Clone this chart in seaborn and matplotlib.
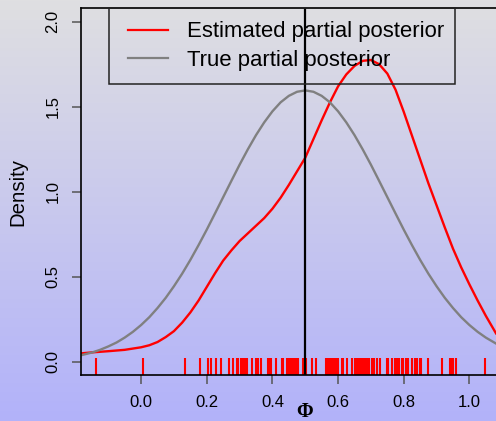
import numpy as np
import pandas as pd
import matplotlib
matplotlib.use("Agg")
import matplotlib.pyplot as plt
from matplotlib.patches import Rectangle
from matplotlib.lines import Line2D
import seaborn as sns

plt.rcParams['font.family'] = ['Liberation Sans', 'DejaVu Sans']

# estimated partial posterior (red)
est_x = [-0.184, -0.15, -0.1, -0.05, 0.0, 0.025, 0.05, 0.075, 0.1, 0.125, 0.15, 0.175,
         0.2, 0.225, 0.25, 0.275, 0.3, 0.325, 0.35, 0.375, 0.4, 0.425, 0.45, 0.475,
         0.5, 0.525, 0.55, 0.575, 0.6, 0.625, 0.65, 0.675, 0.7, 0.725, 0.75, 0.775,
         0.8, 0.825, 0.85, 0.875, 0.9, 0.925, 0.95, 0.975, 1.0, 1.025, 1.05, 1.081]
est_y = [0.049, 0.055, 0.062, 0.070, 0.085, 0.097, 0.116, 0.145, 0.18, 0.23, 0.29, 0.36,
         0.44, 0.52, 0.595, 0.655, 0.71, 0.755, 0.80, 0.845, 0.90, 0.965, 1.04, 1.12,
         1.20, 1.31, 1.42, 1.525, 1.62, 1.69, 1.74, 1.77, 1.775, 1.75, 1.695, 1.60,
         1.47, 1.33, 1.19, 1.05, 0.92, 0.79, 0.665, 0.555, 0.455, 0.36, 0.27, 0.167]

# true partial posterior (grey)
true_x = [-0.184, -0.175, -0.15, -0.125, -0.1, -0.075, -0.05, -0.025, 0.0, 0.025,
          0.05, 0.075, 0.1, 0.125, 0.15, 0.175, 0.2, 0.225, 0.25, 0.275, 0.3, 0.325,
          0.35, 0.375, 0.4, 0.425, 0.45, 0.475, 0.5, 0.525, 0.55, 0.575, 0.6, 0.625,
          0.65, 0.675, 0.7, 0.725, 0.75, 0.775, 0.8, 0.825, 0.85, 0.875, 0.9, 0.925,
          0.95, 0.975, 1.0, 1.025, 1.05, 1.081]
true_y = [0.038, 0.042, 0.054, 0.070, 0.090, 0.113, 0.142, 0.176, 0.216, 0.262,
          0.316, 0.376, 0.444, 0.518, 0.599, 0.686, 0.777, 0.872, 0.968, 1.064, 1.159, 1.249,
          1.333, 1.408, 1.473, 1.526, 1.564, 1.588, 1.596, 1.588, 1.564, 1.526, 1.473, 1.408,
          1.333, 1.249, 1.159, 1.064, 0.968, 0.872, 0.777, 0.686, 0.599, 0.518, 0.444, 0.376,
          0.316, 0.262, 0.216, 0.176, 0.142, 0.107]

# sampled values (rug)
rug_x = [-0.137, 0.007, 0.135, 0.180, 0.205, 0.212, 0.228, 0.243, 0.269, 0.281,
         0.291, 0.296, 0.304, 0.310, 0.317, 0.322, 0.339, 0.350, 0.357, 0.365,
         0.385, 0.389, 0.395, 0.411, 0.429, 0.432, 0.444, 0.450, 0.456, 0.462,
         0.469, 0.474, 0.479, 0.493, 0.503, 0.520, 0.533, 0.564, 0.569, 0.576,
         0.581, 0.586, 0.591, 0.596, 0.601, 0.611, 0.616, 0.627, 0.642, 0.652,
         0.655, 0.662, 0.667, 0.672, 0.677, 0.682, 0.687, 0.695, 0.703, 0.710,
         0.718, 0.728, 0.748, 0.753, 0.764, 0.774, 0.779, 0.787, 0.794, 0.799,
         0.807, 0.814, 0.825, 0.835, 0.840, 0.848, 0.852, 0.875, 0.916, 0.941,
         0.946, 0.951, 0.959, 1.048]

x_ticks = [0.0, 0.2, 0.4, 0.6, 0.8, 1.0]
y_ticks = [0.0, 0.5, 1.0, 1.5, 2.0]

W, H = 496, 421
fig = plt.figure(figsize=(W / 100, H / 100), dpi=100)

# gradient background
bg = fig.add_axes([0, 0, 1, 1], zorder=-10)
top = np.array([223, 223, 225]) / 255
bot = np.array([178, 178, 250]) / 255
t = np.linspace(0, 1, 256)[:, None]
grad = top[None, :] * (1 - t) + bot[None, :] * t
bg.imshow(grad[:, None, :], aspect='auto', extent=[0, 1, 0, 1])
bg.axis('off')

ax = fig.add_axes([80.7 / W, 1 - 375 / H, 1 - 80.7 / W, (375 - 8.3) / H])
ax.set_facecolor('none')

df_est = pd.DataFrame({'x': est_x, 'y': est_y})
df_true = pd.DataFrame({'x': true_x, 'y': true_y})
sns.lineplot(data=df_est, x='x', y='y', color='red', lw=1.7, ax=ax, sort=False)
sns.lineplot(data=df_true, x='x', y='y', color='#808080', lw=1.7, ax=ax, sort=False)
sns.rugplot(x=rug_x, height=0.045, color='red', linewidth=1.5, ax=ax)
ax.axvline(0.5, color='black', lw=1.6)

ax.set_xlim(-0.184, 1.081)
ax.set_ylim(-0.078, 2.079)
ax.set_xticks(x_ticks)
ax.set_xticklabels([f"{v:.1f}" for v in x_ticks], fontsize=12)
ax.set_yticks(y_ticks)
ax.set_yticklabels([f"{v:.1f}" for v in y_ticks], fontsize=12, rotation=90, va='center')
ax.tick_params(axis='both', direction='out', length=6.5, width=1.1, color='#555555', pad=8)
for s in ['left', 'bottom', 'top']:
    ax.spines[s].set_linewidth(1.2)
    ax.spines[s].set_color('black')
ax.spines['right'].set_visible(False)
ax.set_xlabel('')
ax.set_ylabel('')

fig.text(18 / W, 1 - 192 / H, 'Density', rotation=90, fontsize=14.7, ha='center', va='center')
fig.text(305 / W, 1 - 412 / H, '\u03a6', fontsize=14.5, ha='center', va='center',
         family='Liberation Serif', weight='bold')

# legend box and entries
fig.patches.append(Rectangle((108.7 / W, 1 - 84 / H), (455 - 108.7) / W, (84 - 8.3) / H,
                             transform=fig.transFigure, fill=False, ec='#222222', lw=1.1))
handles = [Line2D([], [], color='red', lw=1.6), Line2D([], [], color='#808080', lw=1.6)]
fig.legend(handles, ['Estimated partial posterior', 'True partial posterior'],
           loc='upper left', bbox_to_anchor=(128.3 / W, 1 - 21.5 / H), frameon=False,
           fontsize=15.9, borderpad=0, borderaxespad=0, handlelength=1.8,
           handletextpad=0.85, labelspacing=0.33)

fig.savefig('out.png', dpi=100)
